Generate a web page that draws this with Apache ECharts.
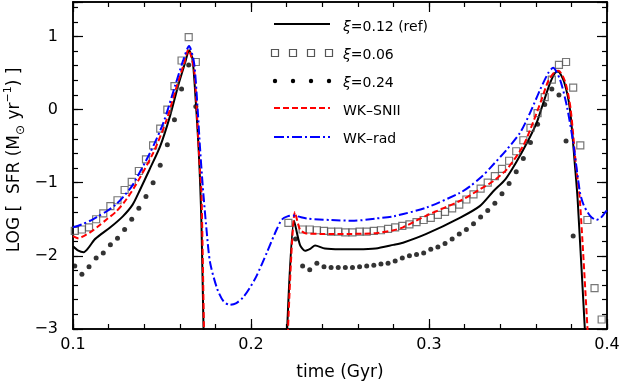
<!DOCTYPE html>
<html>
<head>
<meta charset="utf-8">
<script src="https://cdn.jsdelivr.net/npm/echarts@6/dist/echarts.min.js"></script>
<style>
  html, body { margin: 0; padding: 0; background: #fff; }
  #chart { width: 621px; height: 381px; }
</style>
</head>
<body>
<div id="chart"></div>
<script>
// sample times of the xi=0.06 / xi=0.24 runs (Gyr)
const sampleTimes = [
  0.101, 0.105, 0.109, 0.113, 0.117, 0.121, 0.125, 0.129, 0.133, 0.137,
  0.141, 0.145, 0.149, 0.153, 0.157, 0.161, 0.165, 0.169, 0.173, 0.177,
  0.181, 0.185, 0.189, 0.193, 0.197, 0.201, 0.205, 0.209, 0.213, 0.217,
  0.221, 0.225, 0.229, 0.233, 0.237, 0.241, 0.245, 0.249, 0.253, 0.257,
  0.261, 0.265, 0.269, 0.273, 0.277, 0.281, 0.285, 0.289, 0.293, 0.297,
  0.301, 0.305, 0.309, 0.313, 0.317, 0.321, 0.325, 0.329, 0.333, 0.337,
  0.341, 0.345, 0.349, 0.353, 0.357, 0.361, 0.365, 0.369, 0.373, 0.377,
  0.381, 0.385, 0.389, 0.393, 0.397
];

// xi = 0.06 (open squares)
const xi006 = [
  -1.66, -1.64, -1.61, -1.50, -1.42, -1.32, -1.24, -1.10, -0.99, -0.84,
  -0.68, -0.49, -0.26, 0.00, 0.32, 0.67, 0.99, 0.65, null, null,
  null, null, null, null, null, null, null, null, null, null,
  -1.55, null, -1.64, -1.64, -1.65, -1.66, -1.67, -1.67, -1.68, -1.68,
  -1.67, -1.67, -1.66, -1.65, -1.63, -1.61, -1.59, -1.57, -1.54, -1.51,
  -1.48, -1.44, -1.40, -1.35, -1.30, -1.23, -1.16, -1.08, -1.00, -0.91,
  -0.81, -0.70, -0.57, -0.42, -0.25, -0.05, 0.17, 0.41, 0.61, 0.65,
  0.30, -0.49, -1.51, -2.44, -2.87
];

// xi = 0.24 (filled dots)
const xi024 = [
  -2.14, -2.25, -2.15, -2.03, -1.96, -1.85, -1.76, -1.64, -1.50, -1.35,
  -1.19, -1.00, -0.76, -0.48, -0.14, 0.28, 0.61, 0.04, null, null,
  null, null, null, null, null, null, null, null, null, null,
  null, -1.77, -2.14, -2.19, -2.10, -2.15, -2.16, -2.16, -2.16, -2.16,
  -2.15, -2.14, -2.13, -2.11, -2.10, -2.07, -2.03, -2.00, -1.98, -1.96,
  -1.91, -1.88, -1.83, -1.77, -1.70, -1.64, -1.56, -1.47, -1.38, -1.28,
  -1.15, -1.01, -0.85, -0.67, -0.45, -0.20, 0.07, 0.28, 0.20, -0.43,
  -1.73, null, null, null, null
];

// xi = 0.12 (ref), solid black
const xi012 = [
  [0.100, -1.87], [0.103, -1.93], [0.106, -1.95], [0.109, -1.88], [0.112, -1.78],
  [0.116, -1.70], [0.121, -1.61], [0.128, -1.46], [0.1335, -1.30], [0.1376, -1.10],
  [0.143, -0.82], [0.149, -0.50], [0.1545, -0.09], [0.159, 0.32], [0.163, 0.64],
  [0.1652, 0.81], [0.1672, 0.68], [0.169, 0.10], [0.1705, -0.50], [0.1715, -1.05],
  [0.1722, -1.60], [0.1735, -3.2],
  null,
  [0.2200, -3.2], [0.2242, -1.52], [0.2275, -1.85], [0.2303, -1.93], [0.2335, -1.90],
  [0.236, -1.86], [0.2415, -1.90], [0.250, -1.91], [0.260, -1.91], [0.270, -1.90],
  [0.280, -1.85], [0.2854, -1.82], [0.2985, -1.70], [0.3173, -1.48], [0.3285, -1.32],
  [0.336, -1.12], [0.343, -0.95], [0.349, -0.72], [0.3558, -0.42], [0.3605, -0.18],
  [0.3642, 0.09], [0.368, 0.36], [0.3708, 0.50], [0.3725, 0.52], [0.376, 0.37],
  [0.3792, 0.00], [0.382, -0.77], [0.3835, -1.23], [0.388, -3.2]
];

// WK-SNII, red dashed
const wkSnii = [
  [0.100, -1.73], [0.103, -1.76], [0.106, -1.73], [0.1096, -1.68], [0.114, -1.60],
  [0.119, -1.50], [0.124, -1.40], [0.1287, -1.27], [0.1348, -1.05], [0.1451, -0.59],
  [0.1526, -0.14], [0.1583, 0.32], [0.1625, 0.64], [0.1648, 0.82], [0.168, 0.55],
  [0.1698, -0.14], [0.1713, -0.82], [0.1722, -1.15], [0.1737, -3.2],
  null,
  [0.2205, -3.2], [0.2247, -1.40], [0.2275, -1.64], [0.2305, -1.69], [0.240, -1.70],
  [0.255, -1.70], [0.270, -1.69], [0.280, -1.65], [0.2854, -1.61], [0.2985, -1.45],
  [0.3173, -1.25], [0.3287, -1.09], [0.336, -0.98], [0.3436, -0.82], [0.3528, -0.50],
  [0.3584, -0.18], [0.3633, 0.14], [0.367, 0.39], [0.3708, 0.52], [0.3728, 0.53],
  [0.3765, 0.38], [0.3795, 0.02], [0.3825, -0.75], [0.3848, -1.25], [0.3895, -3.2]
];

// WK-rad, blue dash-dot
const wkRad = [
  [0.100, -1.61], [0.105, -1.57], [0.1096, -1.52], [0.114, -1.46], [0.119, -1.39],
  [0.124, -1.30], [0.128, -1.20], [0.1333, -1.04], [0.1433, -0.59], [0.1508, -0.18],
  [0.1573, 0.32], [0.162, 0.68], [0.1652, 0.87], [0.168, 0.64], [0.1698, 0.09],
  [0.1713, -0.50], [0.1729, -1.05], [0.175, -1.64], [0.177, -2.09], [0.181, -2.45],
  [0.1845, -2.62], [0.188, -2.67], [0.1915, -2.65], [0.1955, -2.57], [0.199, -2.45],
  [0.203, -2.28], [0.209, -1.95], [0.2144, -1.64], [0.2175, -1.50], [0.2205, -1.46],
  [0.2235, -1.45], [0.2315, -1.49], [0.245, -1.51], [0.258, -1.52], [0.270, -1.49],
  [0.280, -1.46], [0.2985, -1.34], [0.3173, -1.14], [0.323, -1.05], [0.330, -0.91],
  [0.3343, -0.80], [0.3436, -0.55], [0.3511, -0.32], [0.3567, -0.05], [0.3624, 0.27],
  [0.367, 0.50], [0.3697, 0.57], [0.3736, 0.41], [0.3775, 0.04], [0.381, -0.45],
  [0.3848, -1.13], [0.3868, -1.30], [0.3904, -1.45], [0.394, -1.51], [0.3965, -1.48],
  [0.3989, -1.41], [0.400, -1.38]
];

const xRange = [0.1, 0.4];
const yRange = [-3, 1.47];

const FONT = 'DejaVu Sans';

const chart = echarts.init(document.getElementById('chart'), null, { renderer: 'canvas' });

const fmtX = (v) => (Math.abs(v * 10 - Math.round(v * 10)) < 1e-6 ? v.toFixed(1) : '');
const fmtY = (v) => {
  const r = Math.round(v);
  if (Math.abs(v - r) > 1e-6) return '';
  return r < 0 ? '\u2212' + (-r) : String(r);
};

const makeX = (position, interval, len, withLabel) => ({
  type: 'value',
  position,
  min: xRange[0],
  max: xRange[1],
  interval,
  axisLine: { show: true, onZero: false, lineStyle: { color: '#000', width: 1.5 } },
  axisTick: { show: true, inside: true, length: len, lineStyle: { color: '#000', width: 1.2 } },
  axisLabel: withLabel
    ? { show: true, formatter: fmtX, margin: 8, color: '#000', fontSize: 16, fontFamily: FONT }
    : { show: false },
  splitLine: { show: false }
});

const makeY = (position, interval, len, withLabel) => ({
  type: 'value',
  position,
  min: yRange[0],
  max: yRange[1],
  interval,
  axisLine: { show: true, onZero: false, lineStyle: { color: '#000', width: 1.5 } },
  axisTick: { show: true, inside: true, length: len, lineStyle: { color: '#000', width: 1.2 } },
  axisLabel: withLabel
    ? { show: true, formatter: fmtY, margin: 15, color: '#000', fontSize: 16, fontFamily: FONT }
    : { show: false },
  splitLine: { show: false }
});

const xAxes = [
  makeX('bottom', 0.02, 5, false),
  makeX('bottom', 0.1, 10, true),
  makeX('top', 0.02, 5, false),
  makeX('top', 0.1, 10, false)
];
xAxes[1].name = 'time (Gyr)';
xAxes[1].nameLocation = 'middle';
xAxes[1].nameGap = 35;
xAxes[1].nameTextStyle = { color: '#000', fontSize: 17, fontFamily: FONT };

const yAxes = [
  makeY('left', 0.2, 5, false),
  makeY('left', 1, 10, true),
  makeY('right', 0.2, 5, false),
  makeY('right', 1, 10, false)
];

const pairs = (vals) => sampleTimes.map((t, i) => [t, vals[i]]);

// legend glyph geometry
const legX0 = 274, legX1 = 330, legText = 343;
const legRows = [24, 53, 81, 108, 137];
const legTextY = [27.5, 55, 83.5, 111.5, 139];
const glyphXs = [275, 293, 311, 329];

const legendText = (txt, i) => ({
  type: 'text',
  x: legText,
  y: legTextY[i],
  style: {
    text: txt,
    rich: { i: { fontStyle: 'italic', fontSize: 14, fontFamily: FONT, fill: '#000' } },
    fontSize: 14,
    fontFamily: FONT,
    fill: '#000',
    verticalAlign: 'middle'
  }
});

const graphics = [
  // y axis title
  {
    type: 'text',
    x: 15,
    y: 160,
    rotation: Math.PI / 2,
    style: {
      text: '{n|LOG [  SFR (M}{sub|\u2299}{n| yr}{sup|\u22121}{n|) ]}',
      rich: {
        n: { fontSize: 17, fontFamily: FONT, fill: '#000', lineHeight: 24 },
        sub: { fontSize: 12, fontFamily: FONT, fill: '#000', lineHeight: 12, verticalAlign: 'bottom' },
        sup: { fontSize: 11, fontFamily: FONT, fill: '#000', lineHeight: 12, verticalAlign: 'top' }
      },
      align: 'center',
      verticalAlign: 'middle'
    }
  },
  // legend
  { type: 'line', shape: { x1: legX0, y1: legRows[0], x2: legX1, y2: legRows[0] }, style: { stroke: '#000', lineWidth: 2 } },
  legendText('{i|\u03be}=0.12 (ref)', 0),
  ...glyphXs.map((x) => ({ type: 'rect', shape: { x: x - 3.5, y: legRows[1] - 3.5, width: 7, height: 7 }, style: { fill: 'none', stroke: '#555', lineWidth: 1.2 } })),
  legendText('{i|\u03be}=0.06', 1),
  ...glyphXs.map((x) => ({ type: 'circle', shape: { cx: x, cy: legRows[2], r: 2.2 }, style: { fill: '#000' } })),
  legendText('{i|\u03be}=0.24', 2),
  { type: 'line', shape: { x1: legX0, y1: legRows[3], x2: legX1, y2: legRows[3] }, style: { stroke: '#ff0000', lineWidth: 2, lineDash: [6, 3] } },
  legendText('WK\u2013SNII', 3),
  { type: 'line', shape: { x1: legX0, y1: legRows[4], x2: legX1, y2: legRows[4] }, style: { stroke: '#0000ff', lineWidth: 2, lineDash: [10, 3, 2, 3] } },
  legendText('WK\u2013rad', 4)
];

const option = {
  animation: false,
  backgroundColor: '#fff',
  grid: { left: 73, right: 14, top: 2, bottom: 52, containLabel: false, outerBoundsMode: 'none' },
  xAxis: xAxes,
  yAxis: yAxes,
  graphic: graphics,
  series: [
    {
      name: 'xi=0.12 (ref)',
      type: 'line',
      data: xi012,
      showSymbol: false,
      smooth: 0.25,
      clip: true,
      lineStyle: { color: '#000', width: 2 },
      z: 2
    },
    {
      name: 'xi=0.24',
      type: 'scatter',
      data: pairs(xi024),
      symbol: 'circle',
      symbolSize: 5,
      itemStyle: { color: '#000' },
      z: 3
    },
    {
      name: 'xi=0.06',
      type: 'scatter',
      data: pairs(xi006),
      symbol: 'rect',
      symbolSize: 7,
      itemStyle: { color: 'rgba(0,0,0,0)', borderColor: '#555', borderWidth: 1.2 },
      z: 4
    },
    {
      name: 'WK-SNII',
      type: 'line',
      data: wkSnii,
      showSymbol: false,
      smooth: 0.25,
      clip: true,
      lineStyle: { color: '#ff0000', width: 2, type: [6, 3] },
      z: 5
    },
    {
      name: 'WK-rad',
      type: 'line',
      data: wkRad,
      showSymbol: false,
      smooth: 0.25,
      clip: true,
      lineStyle: { color: '#0000ff', width: 2, type: [9, 3, 2, 3] },
      z: 6
    }
  ]
};

chart.setOption(option);

window.addEventListener('resize', () => chart.resize());
</script>
</body>
</html>
